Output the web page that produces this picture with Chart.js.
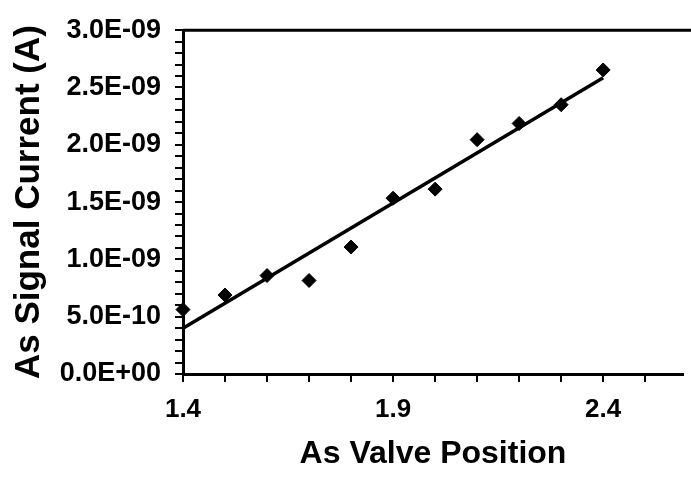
<!DOCTYPE html>
<html><head><meta charset="utf-8">
<script src="https://cdn.jsdelivr.net/npm/chart.js@4.4.0/dist/chart.umd.min.js"></script>
<style>html,body{margin:0;padding:0;background:#fff;} #wrap{width:691px;height:485px;}</style>
</head><body><div id="wrap"><canvas id="c" width="691" height="485"></canvas></div>
<script>
const valvePositions = [1.4, 1.5, 1.6, 1.7, 1.8, 1.9, 2.0, 2.1, 2.2, 2.3, 2.4];
const signalCurrent = [0.562e-9, 0.689e-9, 0.859e-9, 0.816e-9, 1.108e-9, 1.534e-9, 1.613e-9, 2.045e-9, 2.186e-9, 2.350e-9, 2.653e-9];
const fitX = [1.4, 2.4];
const fitY = [0.399e-9, 2.585e-9];
const xTickLabels = ['1.4', '1.9', '2.4'];
const yTickLabels = ['0.0E+00', '5.0E-10', '1.0E-09', '1.5E-09', '2.0E-09', '2.5E-09', '3.0E-09'];
const xTitle = 'As Valve Position';
const yTitle = 'As Signal Current (A)';

const FONT = "'Liberation Sans', Arial, Helvetica, sans-serif";

const topBorder = {
  id: 'topBorder',
  afterDraw(chart) {
    const {ctx, chartArea} = chart;
    ctx.save();
    ctx.strokeStyle = '#000';
    ctx.lineWidth = 3;
    ctx.beginPath();
    ctx.moveTo(chartArea.left, chartArea.top);
    ctx.lineTo(chart.width, chartArea.top);
    ctx.stroke();
    ctx.restore();
  }
};

new Chart(document.getElementById('c'), {
  type: 'scatter',
  data: {
    datasets: [
      {
        data: valvePositions.map((x, i) => ({x, y: signalCurrent[i]})),
        pointStyle: 'rectRot',
        pointRadius: 7,
        backgroundColor: '#000',
        borderColor: '#000',
        borderWidth: 1,
        clip: false,
        order: 0
      },
      {
        data: fitX.map((x, i) => ({x, y: fitY[i]})),
        showLine: true,
        pointRadius: 0,
        borderColor: '#000',
        borderWidth: 3.5,
        clip: false,
        order: 1
      }
    ]
  },
  options: {
    responsive: false,
    devicePixelRatio: 1,
    animation: false,
    layout: {padding: {top: 19, right: 0, left: 0, bottom: 0}},
    plugins: {legend: {display: false}, tooltip: {enabled: false}},
    scales: {
      x: {
        type: 'linear',
        min: 1.4,
        max: 2.59,
        afterBuildTicks: s => { s.ticks = Array.from({length: 12}, (_, i) => ({value: +(1.4 + i * 0.1).toFixed(1)})); },
        afterFit: s => { s.height = 111; },
        ticks: {
          autoSkip: false, maxRotation: 0, color: '#000', padding: 12,
          font: {family: FONT, size: 26, weight: 'bold'},
          callback: (v, i) => (i % 5 === 0 ? xTickLabels[i / 5] : '')
        },
        grid: {drawOnChartArea: false, drawTicks: true, tickLength: 8, color: '#000', lineWidth: 2},
        border: {display: true, color: '#000', width: 3},
        title: {display: true, text: xTitle, color: '#000', padding: {top: 0, bottom: 12},
          font: {family: FONT, size: 32, weight: 'bold'}}
      },
      y: {
        type: 'linear',
        min: 0,
        max: 3e-9,
        afterBuildTicks: s => { s.ticks = Array.from({length: 31}, (_, i) => ({value: (i / 10) * 1e-9})); },
        afterFit: s => { s.width = 183; },
        ticks: {
          autoSkip: false, color: '#000', padding: 14,
          font: {family: FONT, size: 27, weight: 'bold'},
          callback: (v, i) => (i % 5 === 0 ? yTickLabels[i / 5] : '')
        },
        grid: {drawOnChartArea: false, drawTicks: true, tickLength: 8, color: '#000', lineWidth: 2},
        border: {display: true, color: '#000', width: 3},
        title: {display: true, text: yTitle, color: '#000', padding: {top: 8, bottom: 0},
          font: {family: FONT, size: 35, weight: 'bold'}}
      }
    }
  },
  plugins: [topBorder]
});
</script>
</body></html>
